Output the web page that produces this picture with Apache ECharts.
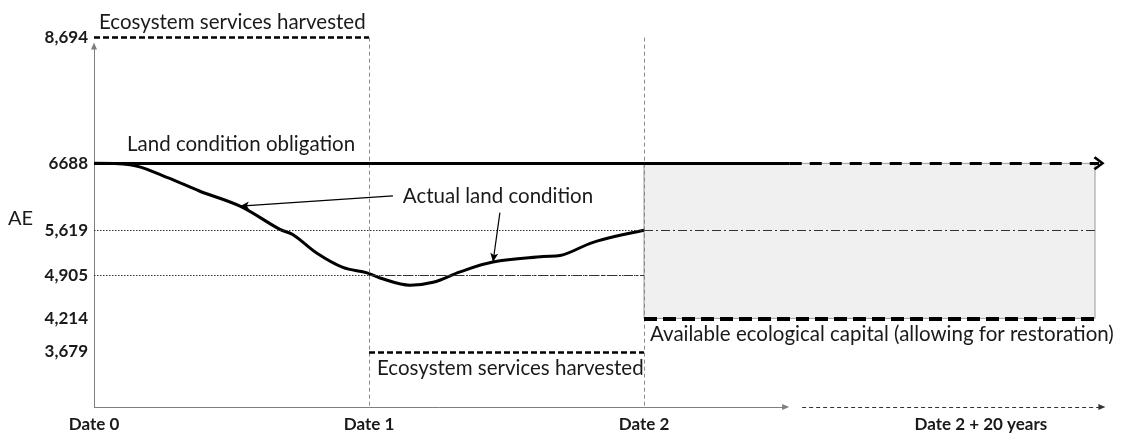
<!DOCTYPE html>
<html>
<head>
<meta charset="utf-8">
<script src="https://cdn.jsdelivr.net/npm/echarts@6/dist/echarts.min.js"></script>
<style>
  html, body { margin: 0; padding: 0; background: #fff; }
  #chart { width: 1128px; height: 437px; }
</style>
</head>
<body>
<div id="chart"></div>
<script>
// tick labels
var xTicks = [0, 1, 2, 3.225];
var xTickLabels = ['Date 0', 'Date 1', 'Date 2', 'Date 2 + 20 years'];
var yTicks = [8694, 6688, 5619, 4905, 4214, 3679];
var yTickLabels = ['8,694', '6688', '5,619', '4,905', '4,214', '3,679'];

// levels (AE)
var harvestTop = 8694;
var obligation = 6688;
var levelA = 5619;
var levelB = 4905;
var capitalFloor = 4214;
var harvestLow = 3679;

// dates
var date0 = 0, date1 = 1, date2 = 2;
var solidEnd = 2.53;     // obligation turns dashed here
var horizonEnd = 3.64;   // date 2 + 20 years box edge
var arrowEnd = 3.655;

// actual land condition curve
var curveX = [0, 0.131, 0.265, 0.385, 0.531, 0.676, 0.724, 0.811, 0.905, 0.993, 1.04, 1.149, 1.233, 1.331, 1.451, 1.633, 1.695, 1.815, 2.0];
var curveY = [6688, 6666, 6465, 6243, 6005, 5634, 5549, 5253, 5027, 4940, 4859, 4744, 4790, 4957, 5114, 5201, 5218, 5428, 5619];

var font = 'Lato';
var ink = '#1a1a1a';

var chart = echarts.init(document.getElementById('chart'));

function seg(x1, y1, x2, y2, style, extra) {
  var a = { coord: [x1, y1], symbol: 'none' };
  var b = { coord: [x2, y2], symbol: 'none' };
  if (extra && extra.endSymbol) { b.symbol = extra.endSymbol; b.symbolSize = extra.endSize; }
  a.lineStyle = style;
  if (extra && extra.label) a.label = extra.label;
  return [a, b];
}

var txt = { show: true, color: ink, fontFamily: font, fontSize: 20.5 };

var lines = [
  // axes
  seg(date0, 2800, date0, 8560, { color: '#7f7f7f', width: 1, type: 'solid' }, { endSymbol: 'triangle', endSize: [6, 7] }),
  seg(date0, 2800, 2.515, 2800, { color: '#7f7f7f', width: 1, type: 'solid' }, { endSymbol: 'triangle', endSize: [6, 7] }),
  seg(2.575, 2800, 3.665, 2800, { color: '#333', width: 1, type: [4, 3] }, { endSymbol: 'triangle', endSize: [6, 7] }),
  // vertical date markers
  seg(date1, harvestTop, date1, 2800, { color: '#8a8a8a', width: 1, type: [4, 3] }),
  seg(date2, harvestTop, date2, 2800, { color: '#8a8a8a', width: 1, type: [4, 3] }),
  // dotted reference levels
  seg(date0, levelA, date2, levelA, { color: '#333', width: 1, type: [1.5, 1.5] }),
  seg(date0, levelB, date2, levelB, { color: '#333', width: 1, type: [1.5, 1.5] }),
  // dash-dot levels
  seg(date1, levelB, date2, levelB, { color: '#333', width: 1.2, type: [9, 3, 2, 3] }),
  seg(date2, levelA, horizonEnd, levelA, { color: '#333', width: 1.2, type: [9, 3, 2, 3] }),
  // harvested (top)
  seg(date0, harvestTop, date1, harvestTop, { color: '#000', width: 2.5, type: [6, 3] }, {
    label: Object.assign({}, txt, { formatter: 'Ecosystem services harvested', position: 'insideStartTop', distance: 5, padding: [0, 0, 0, 0] })
  }),
  // harvested (low)
  seg(date1, harvestLow, date2, harvestLow, { color: '#000', width: 2.5, type: [6, 3] }, {
    label: Object.assign({}, txt, { formatter: 'Ecosystem services harvested', position: 'insideStartBottom', distance: 6, padding: [0, 0, 0, 2] })
  }),
  // available ecological capital floor
  seg(date2, capitalFloor, horizonEnd, capitalFloor, { color: '#000', width: 4, type: [13, 6] }, {
    label: Object.assign({}, txt, { formatter: 'Available ecological capital (allowing for restoration)', position: 'insideStartBottom', distance: 6, padding: [0, 0, 0, 0] })
  }),
  // land condition obligation
  seg(date0, obligation, solidEnd, obligation, { color: '#000', width: 3, type: 'solid' }, {
    label: Object.assign({}, txt, { formatter: 'Land condition obligation', position: 'insideStartTop', distance: 8, padding: [0, 0, 0, 25] })
  }),
  seg(solidEnd, obligation, arrowEnd, obligation, { color: '#000', width: 3, type: [12, 8] }, {
    endSymbol: 'path://M0,9 L7,0 L14,9 L12,10.6 L7,4 L2,10.6 Z', endSize: [14, 11]
  }),
  // pointers to the curve
  seg(1.087, 6168, 0.531, 6005, { color: '#000', width: 1.2, type: 'solid' }, { endSymbol: 'arrow', endSize: [6, 9] }),
  seg(1.476, 5901, 1.451, 5114, { color: '#000', width: 1.2, type: 'solid' }, { endSymbol: 'arrow', endSize: [6, 9] })
];

var option = {
  animation: false,
  backgroundColor: '#fff',
  grid: { left: 94, right: 16.5, top: 31, bottom: 30 },
  xAxis: {
    type: 'value', min: 0, max: 3.7,
    axisLine: { show: false }, axisTick: { show: false }, splitLine: { show: false },
    axisLabel: {
      customValues: xTicks,
      formatter: function (v) { return xTickLabels[xTicks.indexOf(v)]; },
      color: ink, fontFamily: font, fontSize: 17, fontWeight: 'bold', margin: 9
    }
  },
  yAxis: {
    type: 'value', min: 2800, max: 8800,
    name: 'AE', nameLocation: 'middle', nameRotate: 0, nameGap: 61,
    nameTextStyle: { color: ink, fontFamily: font, fontSize: 20, padding: [0, 0, 20, 0] },
    axisLine: { show: false }, axisTick: { show: false }, splitLine: { show: false },
    axisLabel: {
      customValues: yTicks,
      formatter: function (v) { return yTickLabels[yTicks.indexOf(v)]; },
      color: ink, fontFamily: font, fontSize: 17, fontWeight: 'bold', margin: 6
    }
  },
  series: [
    {
      type: 'line', data: [], z: 1, silent: true,
      markArea: {
        silent: true,
        itemStyle: { color: '#f0f0f0', borderColor: '#9a9a9a', borderWidth: 1 },
        data: [[{ coord: [date2, obligation] }, { coord: [horizonEnd, capitalFloor] }]]
      }
    },
    {
      type: 'line', data: [], z: 2, silent: true,
      markLine: { silent: true, symbol: ['none', 'none'], label: { show: false }, emphasis: { disabled: true }, data: lines },
      markPoint: {
        silent: true,
        data: [{ coord: [1.469, 6153], symbol: 'circle', symbolSize: 0,
          label: Object.assign({}, txt, { formatter: 'Actual land condition', position: 'inside' }) }]
      }
    },
    {
      type: 'line', z: 3, smooth: 0.35, symbol: 'none', silent: true,
      lineStyle: { color: '#000', width: 3 },
      data: curveX.map(function (x, i) { return [x, curveY[i]]; })
    }
  ]
};

chart.setOption(option);
</script>
</body>
</html>
